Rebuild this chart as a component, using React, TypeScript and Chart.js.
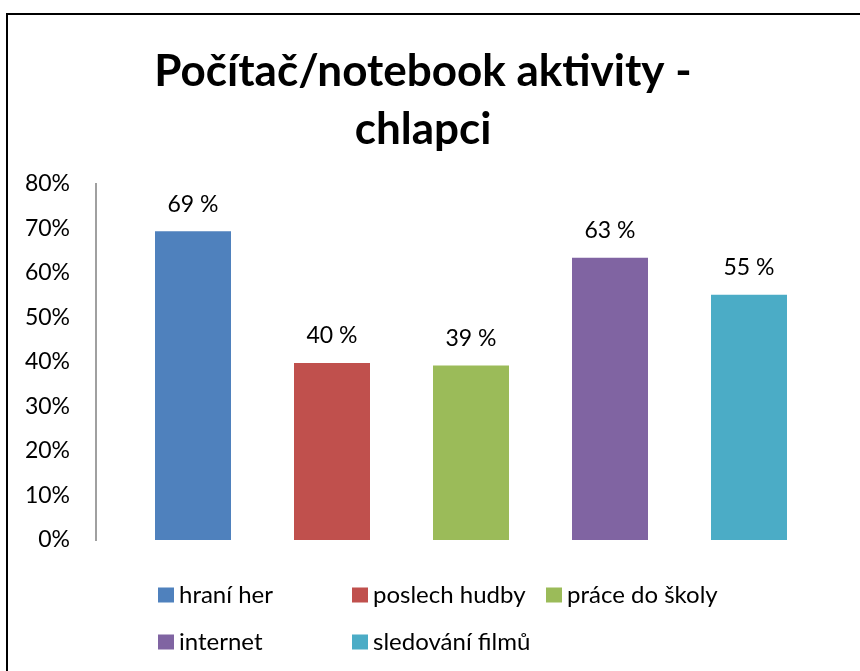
import React, { useEffect, useRef } from "react";
import { Chart, registerables } from "chart.js";

Chart.register(...registerables);

const TITLE_LINES = ["Počítač/notebook aktivity -", "chlapci"];
const CATEGORIES = ["hraní her", "poslech hudby", "práce do školy", "internet", "sledování filmů"];
const VALUES = [69.4, 39.8, 39.2, 63.4, 55.1];
const VALUE_LABELS = ["69 %", "40 %", "39 %", "63 %", "55 %"];
const COLORS = ["#4F81BD", "#C0504D", "#9BBB59", "#8064A2", "#4BACC6"];
const Y_MIN = 0;
const Y_MAX = 80;
const Y_STEP = 10;

const FONT = "Lato, 'Open Sans', sans-serif";

const valueLabelPlugin = {
  id: "valueLabels",
  afterDatasetsDraw(chart: any) {
    const ctx = chart.ctx;
    ctx.save();
    ctx.font = `23px ${FONT}`;
    ctx.fillStyle = "#000";
    ctx.textAlign = "center";
    ctx.textBaseline = "middle";
    chart.data.datasets.forEach((ds: any, i: number) => {
      const meta = chart.getDatasetMeta(i);
      const el = meta.data[0];
      if (!el) return;
      ctx.fillText(VALUE_LABELS[i], el.x, el.y - 27);
    });
    ctx.restore();
  },
};

const gridLegendPlugin = {
  id: "gridLegend",
  afterDraw(chart: any) {
    const ctx = chart.ctx;
    const area = chart.chartArea;
    const colW = 194;
    const cols = 3;
    const startX = area.left + 62;
    const startY = area.bottom + 55;
    const rowH = 47;
    ctx.save();
    ctx.font = `24px ${FONT}`;
    ctx.textBaseline = "middle";
    ctx.textAlign = "left";
    chart.data.datasets.forEach((ds: any, i: number) => {
      const c = i % cols;
      const r = Math.floor(i / cols);
      const x = startX + c * colW;
      const y = startY + r * rowH;
      ctx.fillStyle = ds.backgroundColor;
      ctx.fillRect(x, y - 7.5, 16, 15);
      ctx.fillStyle = "#000";
      ctx.fillText(ds.label, x + 21, y);
    });
    ctx.restore();
  },
};

export default function App() {
  const ref = useRef<HTMLCanvasElement | null>(null);

  useEffect(() => {
    if (!ref.current) return;
    const chart = new Chart(ref.current, {
      type: "bar",
      data: {
        labels: [""],
        datasets: CATEGORIES.map((c, i) => ({
          label: c,
          data: [VALUES[i]],
          backgroundColor: COLORS[i],
          borderWidth: 0,
          categoryPercentage: 695 / 750,
          barPercentage: 76 / 139,
        })),
      },
      options: {
        animation: false,
        responsive: false,
        maintainAspectRatio: false,
        layout: { padding: { left: 0, right: 14, top: 0, bottom: 131 } },
        plugins: {
          legend: { display: false },
          tooltip: { enabled: false },
          title: {
            display: true,
            text: TITLE_LINES,
            color: "#000",
            font: { family: FONT, size: 44, weight: "bold", lineHeight: 58 / 44 },
            padding: { top: 43, bottom: 25 },
          },
        },
        scales: {
          x: { display: false },
          y: {
            min: Y_MIN,
            max: Y_MAX,
            afterFit(axis: any) {
              axis.width = 96;
            },
            ticks: {
              stepSize: Y_STEP,
              padding: 26,
              color: "#000",
              font: { family: FONT, size: 23 },
              callback: (v: any) => `${v}%`,
            },
            grid: { display: false, drawTicks: false },
            border: { display: true, color: "#A0A0A0", width: 2 },
          },
        },
      },
      plugins: [valueLabelPlugin, gridLegendPlugin],
    });
    return () => chart.destroy();
  }, []);

  return (
    <div style={{ position: "absolute", left: 0, top: 0, width: 860, height: 671, overflow: "hidden", background: "#fff" }}>
      <div
        style={{
          position: "absolute",
          left: 6,
          top: 13,
          width: 1000,
          height: 1000,
          borderLeft: "2px solid #000",
          borderTop: "2px solid #000",
        }}
      />
      <canvas ref={ref} width={860} height={671} style={{ position: "absolute", left: 0, top: 0 }} />
    </div>
  );
}
